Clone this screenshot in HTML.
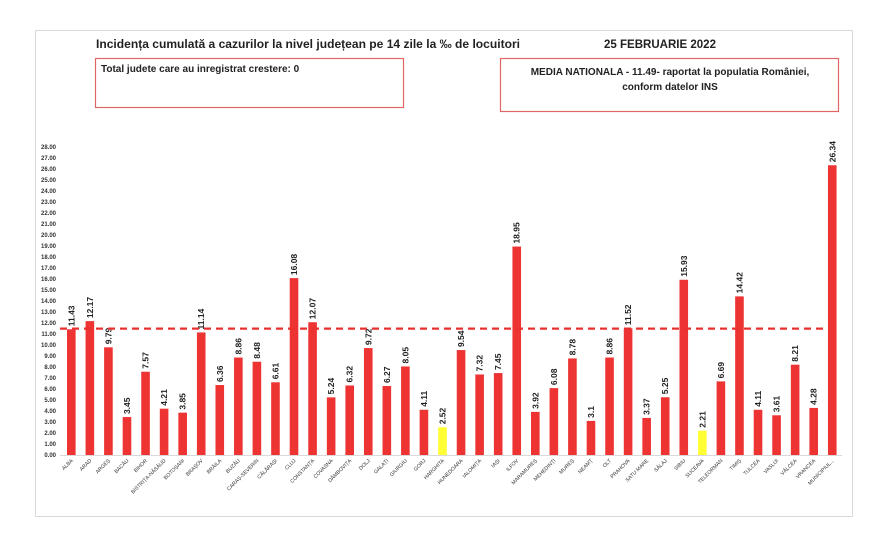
<!DOCTYPE html>
<html><head><meta charset="utf-8"><style>
body{margin:0;background:#fff;width:880px;height:543px;overflow:hidden}
svg{display:block;font-family:"Liberation Sans",sans-serif}
</style></head><body>
<svg width="880" height="543" viewBox="0 0 880 543">
<rect x="35.5" y="30.5" width="817" height="486" fill="#fff" stroke="#d9d9d9"/>
<text x="96" y="48" font-size="11.5" font-weight="bold" fill="#222" textLength="424" lengthAdjust="spacingAndGlyphs">Incidența cumulată a cazurilor la nivel județean pe 14 zile la ‰ de locuitori</text>
<text x="604" y="48" font-size="11.5" font-weight="bold" fill="#222" textLength="112" lengthAdjust="spacingAndGlyphs">25 FEBRUARIE 2022</text>
<rect x="95.5" y="58.5" width="308" height="49" fill="none" stroke="#e06666" stroke-width="1.2"/>
<text x="101" y="72" font-size="10" font-weight="bold" fill="#222">Total judete care au inregistrat crestere: 0</text>
<rect x="500.5" y="58.5" width="338" height="53" fill="none" stroke="#e06666" stroke-width="1.2"/>
<text x="670" y="75" font-size="10" font-weight="bold" fill="#222" text-anchor="middle">MEDIA NATIONALA - 11.49-  raportat la populatia României,</text>
<text x="670" y="90" font-size="10" font-weight="bold" fill="#222" text-anchor="middle">conform datelor INS</text>
<g id="y" font-size="6" font-weight="bold" fill="#333" text-anchor="end"></g>
<line x1="60" y1="455.5" x2="842" y2="455.5" stroke="#d9d9d9"/>
<g id="b"></g>
<line x1="60" y1="328.6" x2="824" y2="328.6" stroke="#e8312f" stroke-width="2.2" stroke-dasharray="7,5"/>
</svg>
<script>
const ns="http://www.w3.org/2000/svg";
const y=document.getElementById('y'),b=document.getElementById('b');
function el(t,a,txt){const e=document.createElementNS(ns,t);for(const k in a)e.setAttribute(k,a[k]);if(txt!==undefined)e.textContent=txt;return e;}
for(let i=0;i<=28;i++){y.appendChild(el('text',{x:56,y:455-i*11+2}, i.toFixed(2)));}
const names=["ALBA","ARAD","ARGEȘ","BACĂU","BIHOR","BISTRIȚA-NĂSĂUD","BOTOȘANI","BRAȘOV","BRĂILA","BUZĂU","CARAȘ-SEVERIN","CĂLĂRAȘI","CLUJ","CONSTANȚA","COVASNA","DÂMBOVIȚA","DOLJ","GALAȚI","GIURGIU","GORJ","HARGHITA","HUNEDOARA","IALOMIȚA","IAȘI","ILFOV","MARAMUREȘ","MEHEDINȚI","MUREȘ","NEAMȚ","OLT","PRAHOVA","SATU MARE","SĂLAJ","SIBIU","SUCEAVA","TELEORMAN","TIMIȘ","TULCEA","VASLUI","VÂLCEA","VRANCEA","MUNICIPIUL..."];
const v=["11.43","12.17","9.79","3.45","7.57","4.21","3.85","11.14","6.36","8.86","8.48","6.61","16.08","12.07","5.24","6.32","9.72","6.27","8.05","4.11","2.52","9.54","7.32","7.45","18.95","3.92","6.08","8.78","3.1","8.86","11.52","3.37","5.25","15.93","2.21","6.69","14.42","4.11","3.61","8.21","4.28","26.34"];
for(let i=0;i<42;i++){
 const x=67+i*18.56,h=parseFloat(v[i])*11,yel=(i==20||i==34);
 b.appendChild(el('rect',{x:x,y:455-h,width:8.6,height:h,fill:yel?'#ffff33':'#ee3333'}));
 const cx=x+4.3;
 b.appendChild(el('text',{transform:`translate(${cx+3},${455-h-3}) rotate(-90)`,"font-size":8.5,"font-weight":"bold",fill:"#222"},v[i]));
 b.appendChild(el('text',{transform:`translate(${cx+2},${461}) rotate(-45)`,"font-size":5.2,fill:"#333","text-anchor":"end"},names[i]));
}
</script>
</body></html>
